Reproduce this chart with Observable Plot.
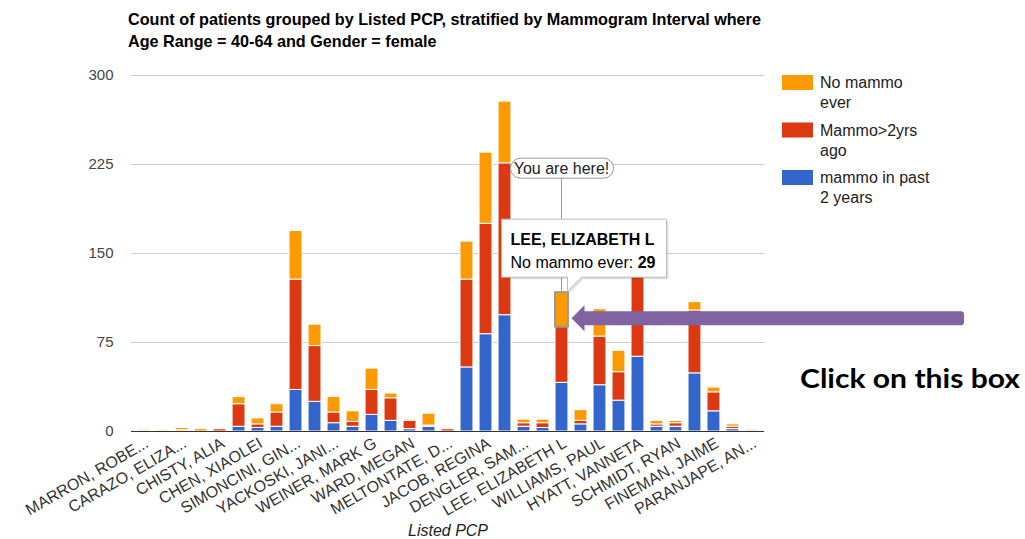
<!DOCTYPE html>
<html><head><meta charset="utf-8">
<script src="https://cdn.jsdelivr.net/npm/d3@7"></script>
<script src="https://cdn.jsdelivr.net/npm/@observablehq/plot@0.6"></script>
<style>
body{margin:0;background:#fff;}
#wrap{position:relative;width:1025px;height:539px;overflow:hidden;font-family:"Liberation Sans",Arial,sans-serif;}
#chart{position:absolute;left:0;top:0;}
#overlay{position:absolute;left:0;top:0;}
</style></head><body>
<div id="wrap"><div id="chart"></div><svg id="overlay" width="1025" height="539"></svg></div>
<script>
// ---- data ----
const categories = [
  "MARRON, ROBE...", "PCP 02", "CARAZO, ELIZA...", "PCP 04", "CHISTY, ALIA", "PCP 06",
  "CHEN, XIAOLEI", "PCP 08", "SIMONCINI, GIN...", "PCP 10", "YACKOSKI, JANI...", "PCP 12",
  "WEINER, MARK G", "PCP 14", "WARD, MEGAN", "PCP 16", "MELTONTATE, D...", "PCP 18",
  "JACOB, REGINA", "PCP 20", "DENGLER, SAM...", "PCP 22", "LEE, ELIZABETH L", "PCP 24",
  "WILLIAMS, PAUL", "PCP 26", "HYATT, VANNETA", "PCP 28", "SCHMIDT, RYAN", "PCP 30",
  "FINEMAN, JAIME", "PCP 32", "PARANJAPE, AN..."
];
const tickLabels = [
  "MARRON, ROBE...", "CARAZO, ELIZA...", "CHISTY, ALIA", "CHEN, XIAOLEI", "SIMONCINI, GIN...",
  "YACKOSKI, JANI...", "WEINER, MARK G", "WARD, MEGAN", "MELTONTATE, D...", "JACOB, REGINA",
  "DENGLER, SAM...", "LEE, ELIZABETH L", "WILLIAMS, PAUL", "HYATT, VANNETA", "SCHMIDT, RYAN",
  "FINEMAN, JAIME", "PARANJAPE, AN..."
];
const pastTwoYears = [0,0,0,0,0,4,3,4,35,25,7,4,14,9,2,4,0,54,82,98,4,3,41,6,39,26,63,4,4,49,17,2,0];
const overTwoYears = [1,0,1,0,2,19,3,12,93,47,9,4,21,19,7,1,2,74,93,128,3,4,47,3,41,24,80,2,3,53,16,2,1];
const neverMammo   = [1,1,2,2,1,6,5,7,41,18,13,9,18,4,1,10,1,32,60,52,3,3,29,9,23,18,17,3,2,7,4,2,1];
const seriesNames = ["mammo in past 2 years", "Mammo>2yrs ago", "No mammo ever"];
const seriesColors = ["#3366cc", "#dc3912", "#ff9900"];
const legendLines = [["mammo in past", "2 years"], ["Mammo>2yrs", "ago"], ["No mammo", "ever"]];
const legendOrder = [2, 1, 0];
const yTicks = [0, 75, 150, 225, 300];
const titleLines = ["Count of patients grouped by Listed PCP, stratified by Mammogram Interval where",
                    "Age Range = 40-64 and Gender = female"];
const xTitle = "Listed PCP";
const selected = "LEE, ELIZABETH L";
const calloutText = "You are here!";
const noteText = "Click on this box";

const series = [pastTwoYears, overTwoYears, neverMammo];
const rows = [];
categories.forEach((c, i) => series.forEach((s, k) => rows.push({name: c, series: seriesNames[k], value: s[i]})));
const si = categories.indexOf(selected);
const highlight = [{name: selected, y1: pastTwoYears[si] + overTwoYears[si], y2: pastTwoYears[si] + overTwoYears[si] + neverMammo[si]}];

const font = "'Liberation Sans', Arial, sans-serif";
const chart = Plot.plot({
  width: 1025, height: 539,
  marginTop: 75, marginBottom: 108, marginLeft: 131, marginRight: 261,
  style: {fontFamily: font, background: "transparent", overflow: "visible"},
  x: {domain: categories, padding: 0.32, label: null, axis: null},
  y: {domain: [0, 300], label: null, axis: null},
  color: {domain: seriesNames, range: seriesColors},
  marks: [
    Plot.ruleY(yTicks.slice(1), {stroke: "#ccc", strokeWidth: 1}),
    Plot.barY(rows, {x: "name", y: "value", fill: "series", stroke: "#fff", strokeWidth: 1}),
    Plot.barY(highlight, {x: "name", y1: "y1", y2: "y2", fill: seriesColors[2], stroke: "#999", strokeWidth: 2}),
    Plot.ruleY([0], {stroke: "#333"}),
    Plot.axisY(yTicks, {tickSize: 0, tickPadding: 18, fontSize: 15, fill: "#444", label: null}),
    Plot.axisX(tickLabels, {tickSize: 0, tickRotate: -30, fontSize: 16, fill: "#333", tickPadding: 5,
      textAnchor: "end", lineAnchor: "top", label: null})
  ]
});
document.getElementById("chart").appendChild(chart);

// ---- overlay: title, legend, annotations ----
const svg = d3.select("#overlay").style("font-family", font);
const X = chart.scale("x"), Y = chart.scale("y");
const bw = X.bandwidth;

svg.selectAll("text.title").data(titleLines).join("text")
  .attr("x", 128).attr("y", (d, i) => 25 + i * 22)
  .attr("font-size", 16.2).attr("font-weight", "bold").attr("fill", "#000").text(d => d);

legendOrder.forEach((k, j) => {
  const y0 = 75 + j * 47.5;
  svg.append("rect").attr("x", 782).attr("y", y0).attr("width", 31).attr("height", 15).attr("fill", seriesColors[k]);
  legendLines[k].forEach((t, m) => svg.append("text").attr("x", 820).attr("y", y0 + 13 + m * 20)
    .attr("font-size", 16).attr("fill", "#222").text(t));
});

svg.append("text").attr("x", 408).attr("y", 536).attr("font-size", 16).attr("font-style", "italic")
  .attr("fill", "#222").text(xTitle);

const cx = X.apply(selected) + bw / 2;
const topY = Y.apply(highlight[0].y2);

// callout line + pill
svg.append("line").attr("x1", cx).attr("x2", cx).attr("y1", topY - 114).attr("y2", topY).attr("stroke", "#999");
svg.append("rect").attr("x", cx - 51).attr("y", topY - 134).attr("width", 103).attr("height", 20)
  .attr("rx", 10).attr("fill", "#fff").attr("stroke", "#999");
svg.append("text").attr("x", cx).attr("y", topY - 118.5).attr("text-anchor", "middle")
  .attr("font-size", 16).attr("fill", "#222").text(calloutText);

// tooltip
const L = cx - 60, R = cx + 105, T = topY - 73, B = topY - 15;
const tipPath = `M${L},${T}H${R}V${B}H${cx + 20}L${cx + 6},${topY - 1}V${B}H${L}Z`;
svg.append("path").attr("d", tipPath).attr("transform", "translate(2,2)").attr("fill", "rgba(0,0,0,0.12)");
svg.append("path").attr("d", tipPath).attr("fill", "#fff").attr("stroke", "#bbb");
svg.append("text").attr("x", cx - 51).attr("y", topY - 47).attr("font-size", 16).attr("font-weight", "bold")
  .attr("fill", "#000").text(selected);
const t2 = svg.append("text").attr("x", cx - 51).attr("y", topY - 24).attr("font-size", 16).attr("fill", "#000");
t2.append("tspan").text(seriesNames[2] + ": ");
t2.append("tspan").attr("font-weight", "bold").text(neverMammo[si]);

// purple arrow
const ay = topY + 26, tip = cx + 10, hb = cx + 23, end = 964;
svg.append("path")
  .attr("d", `M${tip},${ay}L${hb},${ay - 13}V${ay - 7}H${end - 3}Q${end},${ay - 7} ${end},${ay - 4}V${ay + 4}Q${end},${ay + 7} ${end - 3},${ay + 7}H${hb}V${ay + 13}Z`)
  .attr("fill", "#8064a2");

svg.append("text").attr("x", 800).attr("y", 388).attr("font-family", "Lato, 'Open Sans', sans-serif")
  .attr("font-weight", "bold").attr("font-size", 27).attr("fill", "#000")
  .attr("textLength", 220).attr("lengthAdjust", "spacingAndGlyphs").text(noteText);
</script>
</body></html>
